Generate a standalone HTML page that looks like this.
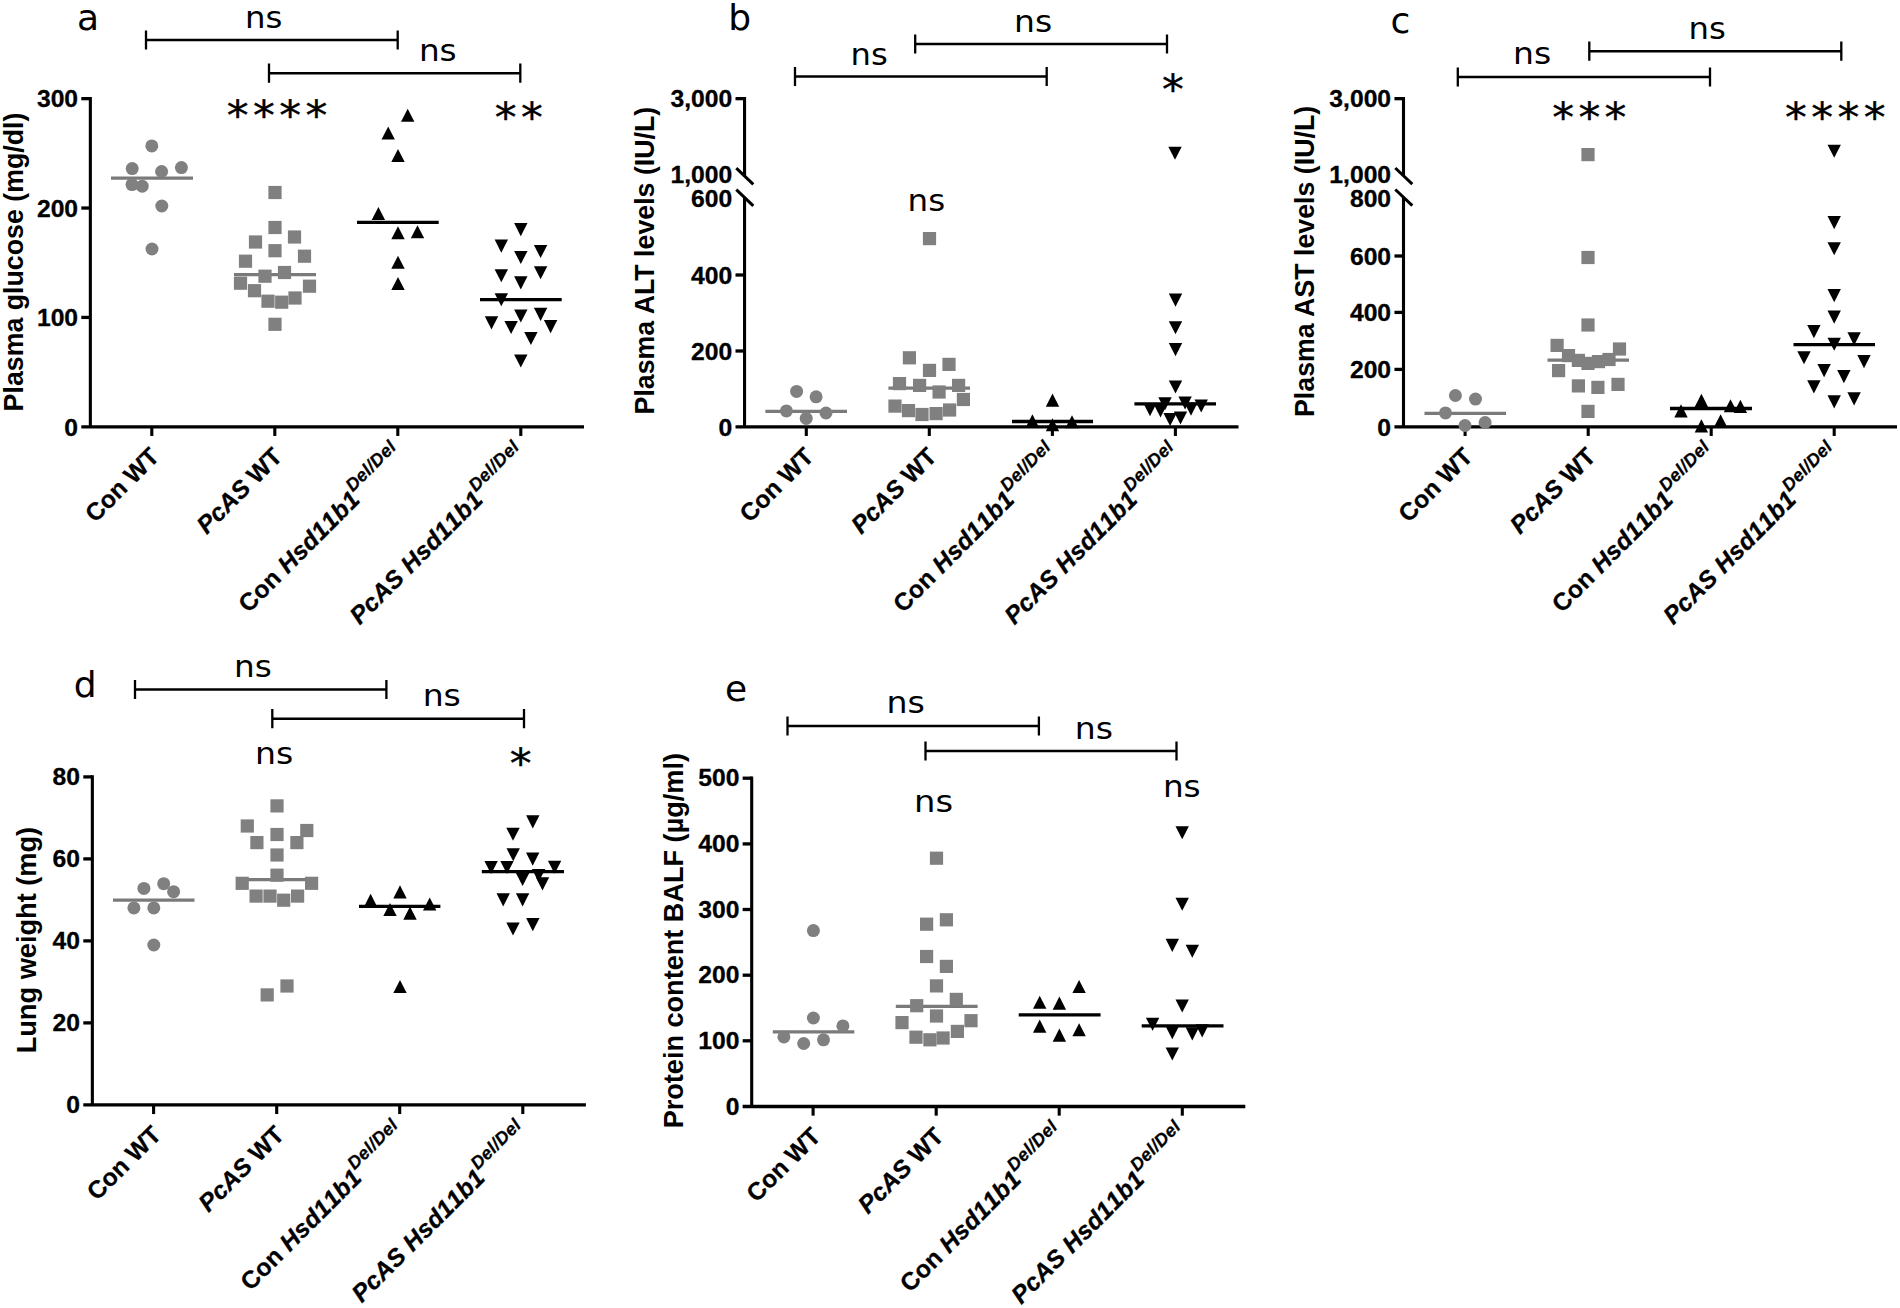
<!DOCTYPE html>
<html lang="en">
<head>
<meta charset="utf-8">
<title>Figure</title>
<style>
html,body{margin:0;padding:0;background:#fff;}
body{width:1900px;height:1308px;overflow:hidden;}
svg{display:block;}
</style>
</head>
<body>
<svg width="1900" height="1308" viewBox="0 0 1900 1308">
<rect width="1900" height="1308" fill="#fff"/>
<text x="76.9" y="30.3" font-family='"DejaVu Sans", "Liberation Sans", sans-serif' font-size="36" fill="#000">a</text>
<path d="M146.0 30.4V49.6M397.7 30.4V49.6" stroke="#000" stroke-width="2.3" fill="none"/>
<path d="M146.0 40.0H397.7" stroke="#000" stroke-width="2.6" fill="none"/>
<text transform="translate(245.10 27.8) scale(1.102 1)" font-family='"DejaVu Sans", "Liberation Sans", sans-serif' font-size="29.4" fill="#000">ns</text>
<path d="M269.0 63.6V82.8M520.3 63.6V82.8" stroke="#000" stroke-width="2.3" fill="none"/>
<path d="M269.0 73.2H520.3" stroke="#000" stroke-width="2.6" fill="none"/>
<text transform="translate(418.88 61.3) scale(1.112 1)" font-family='"DejaVu Sans", "Liberation Sans", sans-serif' font-size="29.4" fill="#000">ns</text>
<text transform="scale(1.05 1)" x="216.00 240.95 265.91 290.86" y="130.4" font-family='"DejaVu Sans", "Liberation Sans", sans-serif' font-size="41.5" fill="#000" stroke="#000" stroke-width="0.4">****</text>
<text transform="scale(1.05 1)" x="471.14 496.10" y="131.6" font-family='"DejaVu Sans", "Liberation Sans", sans-serif' font-size="41.5" fill="#000" stroke="#000" stroke-width="0.4">**</text>
<path d="M90.35 97.00V426.80" stroke="#000" stroke-width="3.1" fill="none"/>
<path d="M81.30 426.80H584.0" stroke="#000" stroke-width="3.3" fill="none"/>
<path d="M81.30 98.65H90.35" stroke="#000" stroke-width="3.3" fill="none"/>
<path d="M81.30 208.03H90.35" stroke="#000" stroke-width="3.3" fill="none"/>
<path d="M81.30 317.42H90.35" stroke="#000" stroke-width="3.3" fill="none"/>
<path d="M151.80 426.80V435.95" stroke="#000" stroke-width="3.1" fill="none"/>
<path d="M274.80 426.80V435.95" stroke="#000" stroke-width="3.1" fill="none"/>
<path d="M397.80 426.80V435.95" stroke="#000" stroke-width="3.1" fill="none"/>
<path d="M520.80 426.80V435.95" stroke="#000" stroke-width="3.1" fill="none"/>
<text transform="translate(78.1 107.4) scale(1.0 1)" text-anchor="end" font-family='"Liberation Sans", Arial, sans-serif' font-weight="700" font-size="24.7" fill="#000" stroke="#000" stroke-width="0.3" style="font-kerning:none">300</text>
<text transform="translate(78.1 216.7) scale(1.0 1)" text-anchor="end" font-family='"Liberation Sans", Arial, sans-serif' font-weight="700" font-size="24.7" fill="#000" stroke="#000" stroke-width="0.3" style="font-kerning:none">200</text>
<text transform="translate(78.1 326.1) scale(1.0 1)" text-anchor="end" font-family='"Liberation Sans", Arial, sans-serif' font-weight="700" font-size="24.7" fill="#000" stroke="#000" stroke-width="0.3" style="font-kerning:none">100</text>
<text transform="translate(78.1 435.5) scale(1.0 1)" text-anchor="end" font-family='"Liberation Sans", Arial, sans-serif' font-weight="700" font-size="24.7" fill="#000" stroke="#000" stroke-width="0.3" style="font-kerning:none">0</text>
<text transform="translate(22.6 262.0) rotate(-90)" text-anchor="middle" font-family='"Liberation Sans", Arial, sans-serif' font-weight="700" font-size="26.75" fill="#000">Plasma glucose (mg/dl)</text>
<text transform="translate(160.7 458.0) rotate(-45)" text-anchor="end" font-family='"Liberation Sans", Arial, sans-serif' font-weight="700" font-size="24.5" fill="#000" stroke="#000" stroke-width="0.3" style="font-kerning:none" letter-spacing="0">Con WT</text>
<text transform="translate(283.7 458.0) rotate(-45)" text-anchor="end" font-family='"Liberation Sans", Arial, sans-serif' font-weight="700" font-size="24.5" fill="#000" stroke="#000" stroke-width="0.3" style="font-kerning:none" letter-spacing="0"><tspan font-style="italic">PcAS</tspan> WT</text>
<text transform="translate(405.6 456.6) rotate(-45)" text-anchor="end" font-family='"Liberation Sans", Arial, sans-serif' font-weight="700" font-size="24.5" fill="#000" stroke="#000" stroke-width="0.3" style="font-kerning:none" letter-spacing="0.25">Con <tspan font-style="italic">Hsd11b1</tspan><tspan font-style="italic" font-size="18" dy="-12" stroke-width="0.25">Del/Del</tspan></text>
<text transform="translate(528.6 456.6) rotate(-45)" text-anchor="end" font-family='"Liberation Sans", Arial, sans-serif' font-weight="700" font-size="24.5" fill="#000" stroke="#000" stroke-width="0.3" style="font-kerning:none" letter-spacing="0.25"><tspan font-style="italic">PcAS Hsd11b1</tspan><tspan font-style="italic" font-size="18" dy="-12" stroke-width="0.25">Del/Del</tspan></text>
<path d="M111.0 178.1H193.0" stroke="#7a7a7a" stroke-width="3.3" fill="none"/>
<circle cx="151.8" cy="145.9" r="6.5" fill="#808080"/>
<circle cx="132.2" cy="168.6" r="6.5" fill="#808080"/>
<circle cx="161.6" cy="171.5" r="6.5" fill="#808080"/>
<circle cx="181.4" cy="167.6" r="6.5" fill="#808080"/>
<circle cx="132.0" cy="184.6" r="6.5" fill="#808080"/>
<circle cx="142.2" cy="186.2" r="6.5" fill="#808080"/>
<circle cx="161.8" cy="206.0" r="6.5" fill="#808080"/>
<circle cx="152.0" cy="249.0" r="6.5" fill="#808080"/>
<path d="M234.0 274.6H316.0" stroke="#7a7a7a" stroke-width="3.3" fill="none"/>
<rect x="268.4" y="185.9" width="13.2" height="13.2" fill="#808080"/>
<rect x="268.4" y="220.9" width="13.2" height="13.2" fill="#808080"/>
<rect x="287.9" y="230.4" width="13.2" height="13.2" fill="#808080"/>
<rect x="248.9" y="235.4" width="13.2" height="13.2" fill="#808080"/>
<rect x="268.4" y="244.1" width="13.2" height="13.2" fill="#808080"/>
<rect x="297.9" y="249.6" width="13.2" height="13.2" fill="#808080"/>
<rect x="238.9" y="254.6" width="13.2" height="13.2" fill="#808080"/>
<rect x="277.9" y="265.9" width="13.2" height="13.2" fill="#808080"/>
<rect x="258.4" y="269.6" width="13.2" height="13.2" fill="#808080"/>
<rect x="233.9" y="276.6" width="13.2" height="13.2" fill="#808080"/>
<rect x="302.9" y="279.6" width="13.2" height="13.2" fill="#808080"/>
<rect x="247.9" y="284.1" width="13.2" height="13.2" fill="#808080"/>
<rect x="288.4" y="291.4" width="13.2" height="13.2" fill="#808080"/>
<rect x="261.4" y="294.6" width="13.2" height="13.2" fill="#808080"/>
<rect x="275.1" y="295.6" width="13.2" height="13.2" fill="#808080"/>
<rect x="268.4" y="317.7" width="13.2" height="13.2" fill="#808080"/>
<path d="M357.0 222.4H438.7" stroke="#000" stroke-width="3.3" fill="none"/>
<path d="M401.0 121.8H414.4L407.7 108.7Z" fill="#000"/>
<path d="M381.5 139.5H394.9L388.2 126.4Z" fill="#000"/>
<path d="M391.3 162.0H404.7L398.0 148.9Z" fill="#000"/>
<path d="M371.7 220.0H385.1L378.4 206.9Z" fill="#000"/>
<path d="M391.3 239.3H404.7L398.0 226.2Z" fill="#000"/>
<path d="M410.8 238.3H424.2L417.5 225.2Z" fill="#000"/>
<path d="M391.3 268.8H404.7L398.0 255.7Z" fill="#000"/>
<path d="M391.3 290.0H404.7L398.0 276.9Z" fill="#000"/>
<path d="M480.0 299.7H561.7" stroke="#000" stroke-width="3.3" fill="none"/>
<path d="M514.1 223.1H527.5L520.8 236.2Z" fill="#000"/>
<path d="M494.6 239.6H508.0L501.3 252.7Z" fill="#000"/>
<path d="M533.9 245.0H547.3L540.6 258.1Z" fill="#000"/>
<path d="M514.1 251.0H527.5L520.8 264.1Z" fill="#000"/>
<path d="M494.6 269.2H508.0L501.3 282.3Z" fill="#000"/>
<path d="M533.9 266.2H547.3L540.6 279.3Z" fill="#000"/>
<path d="M514.1 276.3H527.5L520.8 289.4Z" fill="#000"/>
<path d="M494.6 293.2H508.0L501.3 306.3Z" fill="#000"/>
<path d="M514.1 309.5H527.5L520.8 322.6Z" fill="#000"/>
<path d="M533.9 307.8H547.3L540.6 320.9Z" fill="#000"/>
<path d="M484.8 316.3H498.2L491.5 329.4Z" fill="#000"/>
<path d="M504.4 320.9H517.8L511.1 334.0Z" fill="#000"/>
<path d="M543.9 320.1H557.3L550.6 333.2Z" fill="#000"/>
<path d="M524.2 332.0H537.6L530.9 345.1Z" fill="#000"/>
<path d="M514.1 354.4H527.5L520.8 367.5Z" fill="#000"/>
<text x="728.3" y="30.3" font-family='"DejaVu Sans", "Liberation Sans", sans-serif' font-size="36" fill="#000">b</text>
<path d="M795.0 66.9V86.1M1046.7 66.9V86.1" stroke="#000" stroke-width="2.3" fill="none"/>
<path d="M795.0 76.5H1046.7" stroke="#000" stroke-width="2.6" fill="none"/>
<text transform="translate(850.62 65.3) scale(1.096 1)" font-family='"DejaVu Sans", "Liberation Sans", sans-serif' font-size="29.4" fill="#000">ns</text>
<path d="M915.2 34.4V53.6M1167.0 34.4V53.6" stroke="#000" stroke-width="2.3" fill="none"/>
<path d="M915.2 44.0H1167.0" stroke="#000" stroke-width="2.6" fill="none"/>
<text transform="translate(1014.05 31.8) scale(1.122 1)" font-family='"DejaVu Sans", "Liberation Sans", sans-serif' font-size="29.4" fill="#000">ns</text>
<text transform="translate(907.59 210.8) scale(1.106 1)" font-family='"DejaVu Sans", "Liberation Sans", sans-serif' font-size="29.4" fill="#000">ns</text>
<text transform="scale(1.05 1)" x="1106.76" y="103.6" font-family='"DejaVu Sans", "Liberation Sans", sans-serif' font-size="41.5" fill="#000" stroke="#000" stroke-width="0.4">*</text>
<path d="M744.55 97.00V176.3M744.55 197.8V426.80" stroke="#000" stroke-width="3.1" fill="none"/>
<path d="M736.3 168.2L753.3 184.4" stroke="#000" stroke-width="3" fill="none" stroke-linecap="butt"/>
<path d="M736.3 189.7L753.3 205.9" stroke="#000" stroke-width="3" fill="none" stroke-linecap="butt"/>
<path d="M735.50 426.80H1238.5" stroke="#000" stroke-width="3.3" fill="none"/>
<path d="M735.50 98.65H744.55" stroke="#000" stroke-width="3.3" fill="none"/>
<path d="M735.50 275.00H744.55" stroke="#000" stroke-width="3.3" fill="none"/>
<path d="M735.50 351.00H744.55" stroke="#000" stroke-width="3.3" fill="none"/>
<path d="M806.30 426.80V435.95" stroke="#000" stroke-width="3.1" fill="none"/>
<path d="M929.30 426.80V435.95" stroke="#000" stroke-width="3.1" fill="none"/>
<path d="M1052.40 426.80V435.95" stroke="#000" stroke-width="3.1" fill="none"/>
<path d="M1175.40 426.80V435.95" stroke="#000" stroke-width="3.1" fill="none"/>
<text transform="translate(732.2 107.4) scale(1.0 1)" text-anchor="end" font-family='"Liberation Sans", Arial, sans-serif' font-weight="700" font-size="24.7" fill="#000" stroke="#000" stroke-width="0.3" style="font-kerning:none">3,000</text>
<text transform="translate(732.2 183.0) scale(1.0 1)" text-anchor="end" font-family='"Liberation Sans", Arial, sans-serif' font-weight="700" font-size="24.7" fill="#000" stroke="#000" stroke-width="0.3" style="font-kerning:none">1,000</text>
<text transform="translate(732.2 207.4) scale(1.0 1)" text-anchor="end" font-family='"Liberation Sans", Arial, sans-serif' font-weight="700" font-size="24.7" fill="#000" stroke="#000" stroke-width="0.3" style="font-kerning:none">600</text>
<text transform="translate(732.2 283.7) scale(1.0 1)" text-anchor="end" font-family='"Liberation Sans", Arial, sans-serif' font-weight="700" font-size="24.7" fill="#000" stroke="#000" stroke-width="0.3" style="font-kerning:none">400</text>
<text transform="translate(732.2 359.7) scale(1.0 1)" text-anchor="end" font-family='"Liberation Sans", Arial, sans-serif' font-weight="700" font-size="24.7" fill="#000" stroke="#000" stroke-width="0.3" style="font-kerning:none">200</text>
<text transform="translate(732.2 435.5) scale(1.0 1)" text-anchor="end" font-family='"Liberation Sans", Arial, sans-serif' font-weight="700" font-size="24.7" fill="#000" stroke="#000" stroke-width="0.3" style="font-kerning:none">0</text>
<text transform="translate(654.4 260.6) rotate(-90)" text-anchor="middle" font-family='"Liberation Sans", Arial, sans-serif' font-weight="700" font-size="26.75" fill="#000">Plasma ALT levels (IU/L)</text>
<text transform="translate(815.2 458.0) rotate(-45)" text-anchor="end" font-family='"Liberation Sans", Arial, sans-serif' font-weight="700" font-size="24.5" fill="#000" stroke="#000" stroke-width="0.3" style="font-kerning:none" letter-spacing="0">Con WT</text>
<text transform="translate(938.2 458.0) rotate(-45)" text-anchor="end" font-family='"Liberation Sans", Arial, sans-serif' font-weight="700" font-size="24.5" fill="#000" stroke="#000" stroke-width="0.3" style="font-kerning:none" letter-spacing="0"><tspan font-style="italic">PcAS</tspan> WT</text>
<text transform="translate(1060.2 456.6) rotate(-45)" text-anchor="end" font-family='"Liberation Sans", Arial, sans-serif' font-weight="700" font-size="24.5" fill="#000" stroke="#000" stroke-width="0.3" style="font-kerning:none" letter-spacing="0.25">Con <tspan font-style="italic">Hsd11b1</tspan><tspan font-style="italic" font-size="18" dy="-12" stroke-width="0.25">Del/Del</tspan></text>
<text transform="translate(1183.2 456.6) rotate(-45)" text-anchor="end" font-family='"Liberation Sans", Arial, sans-serif' font-weight="700" font-size="24.5" fill="#000" stroke="#000" stroke-width="0.3" style="font-kerning:none" letter-spacing="0.25"><tspan font-style="italic">PcAS Hsd11b1</tspan><tspan font-style="italic" font-size="18" dy="-12" stroke-width="0.25">Del/Del</tspan></text>
<path d="M765.4 411.3H847.0" stroke="#7a7a7a" stroke-width="3.3" fill="none"/>
<circle cx="796.6" cy="391.4" r="6.5" fill="#808080"/>
<circle cx="816.1" cy="396.8" r="6.5" fill="#808080"/>
<circle cx="786.4" cy="410.9" r="6.5" fill="#808080"/>
<circle cx="826.0" cy="413.0" r="6.5" fill="#808080"/>
<circle cx="806.2" cy="418.4" r="6.5" fill="#808080"/>
<path d="M888.4 388.2H970.0" stroke="#7a7a7a" stroke-width="3.3" fill="none"/>
<rect x="922.9" y="232.0" width="13.2" height="13.2" fill="#808080"/>
<rect x="902.8" y="351.2" width="13.2" height="13.2" fill="#808080"/>
<rect x="942.4" y="357.8" width="13.2" height="13.2" fill="#808080"/>
<rect x="922.9" y="363.8" width="13.2" height="13.2" fill="#808080"/>
<rect x="892.9" y="377.0" width="13.2" height="13.2" fill="#808080"/>
<rect x="913.0" y="378.8" width="13.2" height="13.2" fill="#808080"/>
<rect x="952.0" y="378.8" width="13.2" height="13.2" fill="#808080"/>
<rect x="932.5" y="385.4" width="13.2" height="13.2" fill="#808080"/>
<rect x="956.8" y="392.9" width="13.2" height="13.2" fill="#808080"/>
<rect x="888.4" y="399.5" width="13.2" height="13.2" fill="#808080"/>
<rect x="901.9" y="404.0" width="13.2" height="13.2" fill="#808080"/>
<rect x="943.0" y="403.4" width="13.2" height="13.2" fill="#808080"/>
<rect x="915.4" y="407.9" width="13.2" height="13.2" fill="#808080"/>
<rect x="929.5" y="407.0" width="13.2" height="13.2" fill="#808080"/>
<path d="M1012.0 421.5H1093.0" stroke="#000" stroke-width="3.3" fill="none"/>
<path d="M1045.8 406.7H1059.2L1052.5 393.6Z" fill="#000"/>
<path d="M1025.7 427.4H1039.1L1032.4 414.3Z" fill="#000"/>
<path d="M1045.8 431.3H1059.2L1052.5 418.2Z" fill="#000"/>
<path d="M1065.3 428.3H1078.7L1072.0 415.2Z" fill="#000"/>
<path d="M1134.4 403.8H1216.0" stroke="#000" stroke-width="3.3" fill="none"/>
<path d="M1168.3 146.7H1181.7L1175.0 159.8Z" fill="#000"/>
<path d="M1168.8 293.6H1182.2L1175.5 306.7Z" fill="#000"/>
<path d="M1168.8 321.2H1182.2L1175.5 334.3Z" fill="#000"/>
<path d="M1168.8 343.1H1182.2L1175.5 356.2Z" fill="#000"/>
<path d="M1168.8 380.5H1182.2L1175.5 393.6Z" fill="#000"/>
<path d="M1158.3 397.2H1171.7L1165.0 410.3Z" fill="#000"/>
<path d="M1178.4 396.5H1191.8L1185.1 409.6Z" fill="#000"/>
<path d="M1194.5 399.4H1207.9L1201.2 412.5Z" fill="#000"/>
<path d="M1143.3 403.1H1156.7L1150.0 416.2Z" fill="#000"/>
<path d="M1153.8 404.3H1167.2L1160.5 417.4Z" fill="#000"/>
<path d="M1184.3 402.6H1197.7L1191.0 415.7Z" fill="#000"/>
<path d="M1163.4 412.9H1176.8L1170.1 426.0Z" fill="#000"/>
<path d="M1173.8 411.4H1187.2L1180.5 424.5Z" fill="#000"/>
<text x="1390.6" y="32.9" font-family='"DejaVu Sans", "Liberation Sans", sans-serif' font-size="36" fill="#000">c</text>
<path d="M1457.8 67.4V86.6M1710.0 67.4V86.6" stroke="#000" stroke-width="2.3" fill="none"/>
<path d="M1457.8 77.0H1710.0" stroke="#000" stroke-width="2.6" fill="none"/>
<text transform="translate(1513.05 64.4) scale(1.122 1)" font-family='"DejaVu Sans", "Liberation Sans", sans-serif' font-size="29.4" fill="#000">ns</text>
<path d="M1589.3 41.6V60.8M1841.3 41.6V60.8" stroke="#000" stroke-width="2.3" fill="none"/>
<path d="M1589.3 51.2H1841.3" stroke="#000" stroke-width="2.6" fill="none"/>
<text transform="translate(1688.61 39.3) scale(1.099 1)" font-family='"DejaVu Sans", "Liberation Sans", sans-serif' font-size="29.4" fill="#000">ns</text>
<text transform="scale(1.05 1)" x="1478.29 1503.24 1528.19" y="132.0" font-family='"DejaVu Sans", "Liberation Sans", sans-serif' font-size="41.5" fill="#000" stroke="#000" stroke-width="0.4">***</text>
<text transform="scale(1.05 1)" x="1700.10 1725.05 1750.00 1774.95" y="132.0" font-family='"DejaVu Sans", "Liberation Sans", sans-serif' font-size="41.5" fill="#000" stroke="#000" stroke-width="0.4">****</text>
<path d="M1403.50 97.00V176.1M1403.50 197.6V426.80" stroke="#000" stroke-width="3.1" fill="none"/>
<path d="M1395.3 168.0L1412.3 184.2" stroke="#000" stroke-width="3" fill="none" stroke-linecap="butt"/>
<path d="M1395.3 189.5L1412.3 205.7" stroke="#000" stroke-width="3" fill="none" stroke-linecap="butt"/>
<path d="M1394.45 426.80H1897.0" stroke="#000" stroke-width="3.3" fill="none"/>
<path d="M1394.45 98.65H1403.50" stroke="#000" stroke-width="3.3" fill="none"/>
<path d="M1394.45 256.00H1403.50" stroke="#000" stroke-width="3.3" fill="none"/>
<path d="M1394.45 312.40H1403.50" stroke="#000" stroke-width="3.3" fill="none"/>
<path d="M1394.45 369.40H1403.50" stroke="#000" stroke-width="3.3" fill="none"/>
<path d="M1465.10 426.80V435.95" stroke="#000" stroke-width="3.1" fill="none"/>
<path d="M1588.20 426.80V435.95" stroke="#000" stroke-width="3.1" fill="none"/>
<path d="M1711.20 426.80V435.95" stroke="#000" stroke-width="3.1" fill="none"/>
<path d="M1834.20 426.80V435.95" stroke="#000" stroke-width="3.1" fill="none"/>
<text transform="translate(1391.1 107.4) scale(1.0 1)" text-anchor="end" font-family='"Liberation Sans", Arial, sans-serif' font-weight="700" font-size="24.7" fill="#000" stroke="#000" stroke-width="0.3" style="font-kerning:none">3,000</text>
<text transform="translate(1391.1 183.0) scale(1.0 1)" text-anchor="end" font-family='"Liberation Sans", Arial, sans-serif' font-weight="700" font-size="24.7" fill="#000" stroke="#000" stroke-width="0.3" style="font-kerning:none">1,000</text>
<text transform="translate(1391.1 207.4) scale(1.0 1)" text-anchor="end" font-family='"Liberation Sans", Arial, sans-serif' font-weight="700" font-size="24.7" fill="#000" stroke="#000" stroke-width="0.3" style="font-kerning:none">800</text>
<text transform="translate(1391.1 264.7) scale(1.0 1)" text-anchor="end" font-family='"Liberation Sans", Arial, sans-serif' font-weight="700" font-size="24.7" fill="#000" stroke="#000" stroke-width="0.3" style="font-kerning:none">600</text>
<text transform="translate(1391.1 321.1) scale(1.0 1)" text-anchor="end" font-family='"Liberation Sans", Arial, sans-serif' font-weight="700" font-size="24.7" fill="#000" stroke="#000" stroke-width="0.3" style="font-kerning:none">400</text>
<text transform="translate(1391.1 378.1) scale(1.0 1)" text-anchor="end" font-family='"Liberation Sans", Arial, sans-serif' font-weight="700" font-size="24.7" fill="#000" stroke="#000" stroke-width="0.3" style="font-kerning:none">200</text>
<text transform="translate(1391.1 435.5) scale(1.0 1)" text-anchor="end" font-family='"Liberation Sans", Arial, sans-serif' font-weight="700" font-size="24.7" fill="#000" stroke="#000" stroke-width="0.3" style="font-kerning:none">0</text>
<text transform="translate(1314.4 261.4) rotate(-90)" text-anchor="middle" font-family='"Liberation Sans", Arial, sans-serif' font-weight="700" font-size="26.75" fill="#000">Plasma AST levels (IU/L)</text>
<text transform="translate(1474.0 458.0) rotate(-45)" text-anchor="end" font-family='"Liberation Sans", Arial, sans-serif' font-weight="700" font-size="24.5" fill="#000" stroke="#000" stroke-width="0.3" style="font-kerning:none" letter-spacing="0">Con WT</text>
<text transform="translate(1597.1 458.0) rotate(-45)" text-anchor="end" font-family='"Liberation Sans", Arial, sans-serif' font-weight="700" font-size="24.5" fill="#000" stroke="#000" stroke-width="0.3" style="font-kerning:none" letter-spacing="0"><tspan font-style="italic">PcAS</tspan> WT</text>
<text transform="translate(1719.0 456.6) rotate(-45)" text-anchor="end" font-family='"Liberation Sans", Arial, sans-serif' font-weight="700" font-size="24.5" fill="#000" stroke="#000" stroke-width="0.3" style="font-kerning:none" letter-spacing="0.25">Con <tspan font-style="italic">Hsd11b1</tspan><tspan font-style="italic" font-size="18" dy="-12" stroke-width="0.25">Del/Del</tspan></text>
<text transform="translate(1842.0 456.6) rotate(-45)" text-anchor="end" font-family='"Liberation Sans", Arial, sans-serif' font-weight="700" font-size="24.5" fill="#000" stroke="#000" stroke-width="0.3" style="font-kerning:none" letter-spacing="0.25"><tspan font-style="italic">PcAS Hsd11b1</tspan><tspan font-style="italic" font-size="18" dy="-12" stroke-width="0.25">Del/Del</tspan></text>
<path d="M1424.5 413.3H1506.0" stroke="#7a7a7a" stroke-width="3.3" fill="none"/>
<circle cx="1455.4" cy="395.5" r="6.5" fill="#808080"/>
<circle cx="1475.5" cy="399.1" r="6.5" fill="#808080"/>
<circle cx="1445.5" cy="412.9" r="6.5" fill="#808080"/>
<circle cx="1485.1" cy="422.5" r="6.5" fill="#808080"/>
<circle cx="1465.0" cy="425.5" r="6.5" fill="#808080"/>
<path d="M1547.5 360.2H1629.0" stroke="#7a7a7a" stroke-width="3.3" fill="none"/>
<rect x="1581.4" y="148.0" width="13.2" height="13.2" fill="#808080"/>
<rect x="1581.4" y="250.9" width="13.2" height="13.2" fill="#808080"/>
<rect x="1581.4" y="318.4" width="13.2" height="13.2" fill="#808080"/>
<rect x="1550.5" y="338.8" width="13.2" height="13.2" fill="#808080"/>
<rect x="1612.9" y="342.4" width="13.2" height="13.2" fill="#808080"/>
<rect x="1561.9" y="349.0" width="13.2" height="13.2" fill="#808080"/>
<rect x="1602.4" y="352.9" width="13.2" height="13.2" fill="#808080"/>
<rect x="1571.8" y="353.8" width="13.2" height="13.2" fill="#808080"/>
<rect x="1591.9" y="355.0" width="13.2" height="13.2" fill="#808080"/>
<rect x="1581.4" y="356.8" width="13.2" height="13.2" fill="#808080"/>
<rect x="1552.0" y="364.0" width="13.2" height="13.2" fill="#808080"/>
<rect x="1571.8" y="379.3" width="13.2" height="13.2" fill="#808080"/>
<rect x="1591.3" y="380.8" width="13.2" height="13.2" fill="#808080"/>
<rect x="1611.4" y="377.8" width="13.2" height="13.2" fill="#808080"/>
<rect x="1581.4" y="404.8" width="13.2" height="13.2" fill="#808080"/>
<path d="M1670.0 408.5H1752.0" stroke="#000" stroke-width="3.3" fill="none"/>
<path d="M1694.7 406.9H1708.1L1701.4 393.8Z" fill="#000"/>
<path d="M1674.3 417.4H1687.7L1681.0 404.3Z" fill="#000"/>
<path d="M1723.8 412.3H1737.2L1730.5 399.2Z" fill="#000"/>
<path d="M1733.7 412.9H1747.1L1740.4 399.8Z" fill="#000"/>
<path d="M1694.7 432.4H1708.1L1701.4 419.3Z" fill="#000"/>
<path d="M1713.9 427.3H1727.3L1720.6 414.2Z" fill="#000"/>
<path d="M1793.5 344.6H1875.0" stroke="#000" stroke-width="3.3" fill="none"/>
<path d="M1827.5 144.7H1840.9L1834.2 157.8Z" fill="#000"/>
<path d="M1827.5 216.1H1840.9L1834.2 229.2Z" fill="#000"/>
<path d="M1827.5 242.2H1840.9L1834.2 255.3Z" fill="#000"/>
<path d="M1827.5 289.1H1840.9L1834.2 302.2Z" fill="#000"/>
<path d="M1827.5 310.6H1840.9L1834.2 323.7Z" fill="#000"/>
<path d="M1807.2 325.1H1820.6L1813.9 338.2Z" fill="#000"/>
<path d="M1847.4 332.3H1860.8L1854.1 345.4Z" fill="#000"/>
<path d="M1827.5 337.7H1840.9L1834.2 350.8Z" fill="#000"/>
<path d="M1797.3 351.2H1810.7L1804.0 364.3Z" fill="#000"/>
<path d="M1857.3 355.1H1870.7L1864.0 368.2Z" fill="#000"/>
<path d="M1817.4 364.1H1830.8L1824.1 377.2Z" fill="#000"/>
<path d="M1837.2 370.1H1850.6L1843.9 383.2Z" fill="#000"/>
<path d="M1807.2 380.3H1820.6L1813.9 393.4Z" fill="#000"/>
<path d="M1847.4 392.3H1860.8L1854.1 405.4Z" fill="#000"/>
<path d="M1827.5 395.3H1840.9L1834.2 408.4Z" fill="#000"/>
<text x="73.8" y="697.2" font-family='"DejaVu Sans", "Liberation Sans", sans-serif' font-size="36" fill="#000">d</text>
<path d="M135.0 679.9V699.1M386.4 679.9V699.1" stroke="#000" stroke-width="2.3" fill="none"/>
<path d="M135.0 689.5H386.4" stroke="#000" stroke-width="2.6" fill="none"/>
<text transform="translate(234.08 676.7) scale(1.112 1)" font-family='"DejaVu Sans", "Liberation Sans", sans-serif' font-size="29.4" fill="#000">ns</text>
<path d="M272.3 709.1V728.3M524.0 709.1V728.3" stroke="#000" stroke-width="2.3" fill="none"/>
<path d="M272.3 718.7H524.0" stroke="#000" stroke-width="2.6" fill="none"/>
<text transform="translate(422.64 706.0) scale(1.126 1)" font-family='"DejaVu Sans", "Liberation Sans", sans-serif' font-size="29.4" fill="#000">ns</text>
<text transform="translate(254.94 764.0) scale(1.126 1)" font-family='"DejaVu Sans", "Liberation Sans", sans-serif' font-size="29.4" fill="#000">ns</text>
<text transform="scale(1.05 1)" x="485.43" y="778.5" font-family='"DejaVu Sans", "Liberation Sans", sans-serif' font-size="41.5" fill="#000" stroke="#000" stroke-width="0.4">*</text>
<path d="M92.35 775.25V1104.90" stroke="#000" stroke-width="3.1" fill="none"/>
<path d="M83.30 1104.90H585.9" stroke="#000" stroke-width="3.3" fill="none"/>
<path d="M83.30 776.90H92.35" stroke="#000" stroke-width="3.3" fill="none"/>
<path d="M83.30 858.90H92.35" stroke="#000" stroke-width="3.3" fill="none"/>
<path d="M83.30 940.90H92.35" stroke="#000" stroke-width="3.3" fill="none"/>
<path d="M83.30 1022.90H92.35" stroke="#000" stroke-width="3.3" fill="none"/>
<path d="M153.60 1104.90V1114.05" stroke="#000" stroke-width="3.1" fill="none"/>
<path d="M276.70 1104.90V1114.05" stroke="#000" stroke-width="3.1" fill="none"/>
<path d="M399.70 1104.90V1114.05" stroke="#000" stroke-width="3.1" fill="none"/>
<path d="M522.80 1104.90V1114.05" stroke="#000" stroke-width="3.1" fill="none"/>
<text transform="translate(80.0 785.0) scale(1.0 1)" text-anchor="end" font-family='"Liberation Sans", Arial, sans-serif' font-weight="700" font-size="24.7" fill="#000" stroke="#000" stroke-width="0.3" style="font-kerning:none">80</text>
<text transform="translate(80.0 867.0) scale(1.0 1)" text-anchor="end" font-family='"Liberation Sans", Arial, sans-serif' font-weight="700" font-size="24.7" fill="#000" stroke="#000" stroke-width="0.3" style="font-kerning:none">60</text>
<text transform="translate(80.0 949.0) scale(1.0 1)" text-anchor="end" font-family='"Liberation Sans", Arial, sans-serif' font-weight="700" font-size="24.7" fill="#000" stroke="#000" stroke-width="0.3" style="font-kerning:none">40</text>
<text transform="translate(80.0 1031.0) scale(1.0 1)" text-anchor="end" font-family='"Liberation Sans", Arial, sans-serif' font-weight="700" font-size="24.7" fill="#000" stroke="#000" stroke-width="0.3" style="font-kerning:none">20</text>
<text transform="translate(80.0 1113.0) scale(1.0 1)" text-anchor="end" font-family='"Liberation Sans", Arial, sans-serif' font-weight="700" font-size="24.7" fill="#000" stroke="#000" stroke-width="0.3" style="font-kerning:none">0</text>
<text transform="translate(35.8 940.1) rotate(-90)" text-anchor="middle" font-family='"Liberation Sans", Arial, sans-serif' font-weight="700" font-size="27.2" fill="#000">Lung weight (mg)</text>
<text transform="translate(162.5 1136.1) rotate(-45)" text-anchor="end" font-family='"Liberation Sans", Arial, sans-serif' font-weight="700" font-size="24.5" fill="#000" stroke="#000" stroke-width="0.3" style="font-kerning:none" letter-spacing="0">Con WT</text>
<text transform="translate(285.6 1136.1) rotate(-45)" text-anchor="end" font-family='"Liberation Sans", Arial, sans-serif' font-weight="700" font-size="24.5" fill="#000" stroke="#000" stroke-width="0.3" style="font-kerning:none" letter-spacing="0"><tspan font-style="italic">PcAS</tspan> WT</text>
<text transform="translate(407.5 1134.7) rotate(-45)" text-anchor="end" font-family='"Liberation Sans", Arial, sans-serif' font-weight="700" font-size="24.5" fill="#000" stroke="#000" stroke-width="0.3" style="font-kerning:none" letter-spacing="0.25">Con <tspan font-style="italic">Hsd11b1</tspan><tspan font-style="italic" font-size="18" dy="-12" stroke-width="0.25">Del/Del</tspan></text>
<text transform="translate(530.6 1134.7) rotate(-45)" text-anchor="end" font-family='"Liberation Sans", Arial, sans-serif' font-weight="700" font-size="24.5" fill="#000" stroke="#000" stroke-width="0.3" style="font-kerning:none" letter-spacing="0.25"><tspan font-style="italic">PcAS Hsd11b1</tspan><tspan font-style="italic" font-size="18" dy="-12" stroke-width="0.25">Del/Del</tspan></text>
<path d="M113.0 900.2H194.5" stroke="#7a7a7a" stroke-width="3.3" fill="none"/>
<circle cx="143.9" cy="888.4" r="6.5" fill="#808080"/>
<circle cx="163.7" cy="883.7" r="6.5" fill="#808080"/>
<circle cx="173.6" cy="891.7" r="6.5" fill="#808080"/>
<circle cx="133.9" cy="907.9" r="6.5" fill="#808080"/>
<circle cx="153.8" cy="907.9" r="6.5" fill="#808080"/>
<circle cx="153.8" cy="945.0" r="6.5" fill="#808080"/>
<path d="M236.7 879.7H317.4" stroke="#7a7a7a" stroke-width="3.3" fill="none"/>
<rect x="270.4" y="799.3" width="13.2" height="13.2" fill="#808080"/>
<rect x="240.7" y="819.4" width="13.2" height="13.2" fill="#808080"/>
<rect x="300.2" y="823.9" width="13.2" height="13.2" fill="#808080"/>
<rect x="270.4" y="827.9" width="13.2" height="13.2" fill="#808080"/>
<rect x="250.3" y="836.0" width="13.2" height="13.2" fill="#808080"/>
<rect x="290.3" y="836.0" width="13.2" height="13.2" fill="#808080"/>
<rect x="270.4" y="848.4" width="13.2" height="13.2" fill="#808080"/>
<rect x="270.4" y="868.6" width="13.2" height="13.2" fill="#808080"/>
<rect x="235.6" y="876.7" width="13.2" height="13.2" fill="#808080"/>
<rect x="305.0" y="876.7" width="13.2" height="13.2" fill="#808080"/>
<rect x="249.5" y="889.5" width="13.2" height="13.2" fill="#808080"/>
<rect x="263.4" y="889.5" width="13.2" height="13.2" fill="#808080"/>
<rect x="277.1" y="893.6" width="13.2" height="13.2" fill="#808080"/>
<rect x="291.0" y="889.5" width="13.2" height="13.2" fill="#808080"/>
<rect x="260.6" y="988.3" width="13.2" height="13.2" fill="#808080"/>
<rect x="280.4" y="979.4" width="13.2" height="13.2" fill="#808080"/>
<path d="M359.0 906.4H440.4" stroke="#000" stroke-width="3.3" fill="none"/>
<path d="M363.9 906.9H377.3L370.6 893.8Z" fill="#000"/>
<path d="M393.3 898.4H406.7L400.0 885.3Z" fill="#000"/>
<path d="M383.3 916.0H396.7L390.0 902.9Z" fill="#000"/>
<path d="M403.3 919.7H416.7L410.0 906.6Z" fill="#000"/>
<path d="M423.0 910.5H436.4L429.7 897.4Z" fill="#000"/>
<path d="M393.3 993.1H406.7L400.0 980.0Z" fill="#000"/>
<path d="M481.8 871.6H564.0" stroke="#000" stroke-width="3.3" fill="none"/>
<path d="M526.1 815.3H539.5L532.8 828.4Z" fill="#000"/>
<path d="M506.3 827.7H519.7L513.0 840.8Z" fill="#000"/>
<path d="M506.5 848.2H519.9L513.2 861.3Z" fill="#000"/>
<path d="M526.0 852.6H539.4L532.7 865.7Z" fill="#000"/>
<path d="M484.4 860.9H497.8L491.1 874.0Z" fill="#000"/>
<path d="M500.3 860.9H513.7L507.0 874.0Z" fill="#000"/>
<path d="M547.9 860.7H561.3L554.6 873.8Z" fill="#000"/>
<path d="M515.9 873.0H529.3L522.6 886.1Z" fill="#000"/>
<path d="M531.9 868.9H545.3L538.6 882.0Z" fill="#000"/>
<path d="M535.8 877.3H549.2L542.5 890.4Z" fill="#000"/>
<path d="M496.5 893.3H509.9L503.2 906.4Z" fill="#000"/>
<path d="M515.9 893.3H529.3L522.6 906.4Z" fill="#000"/>
<path d="M506.3 922.4H519.7L513.0 935.5Z" fill="#000"/>
<path d="M526.1 918.1H539.5L532.8 931.2Z" fill="#000"/>
<text x="725.1" y="700.8" font-family='"DejaVu Sans", "Liberation Sans", sans-serif' font-size="36" fill="#000">e</text>
<path d="M787.5 716.4V735.6M1038.9 716.4V735.6" stroke="#000" stroke-width="2.3" fill="none"/>
<path d="M787.5 726.0H1038.9" stroke="#000" stroke-width="2.6" fill="none"/>
<text transform="translate(886.44 713.3) scale(1.129 1)" font-family='"DejaVu Sans", "Liberation Sans", sans-serif' font-size="29.4" fill="#000">ns</text>
<path d="M925.5 741.4V760.6M1176.5 741.4V760.6" stroke="#000" stroke-width="2.3" fill="none"/>
<path d="M925.5 751.0H1176.5" stroke="#000" stroke-width="2.6" fill="none"/>
<text transform="translate(1074.74 739.0) scale(1.126 1)" font-family='"DejaVu Sans", "Liberation Sans", sans-serif' font-size="29.4" fill="#000">ns</text>
<text transform="translate(913.99 812.0) scale(1.149 1)" font-family='"DejaVu Sans", "Liberation Sans", sans-serif' font-size="29.4" fill="#000">ns</text>
<text transform="translate(1162.88 797.3) scale(1.112 1)" font-family='"DejaVu Sans", "Liberation Sans", sans-serif' font-size="29.4" fill="#000">ns</text>
<path d="M751.70 776.55V1106.50" stroke="#000" stroke-width="3.1" fill="none"/>
<path d="M742.65 1106.50H1245.3" stroke="#000" stroke-width="3.3" fill="none"/>
<path d="M742.65 778.20H751.70" stroke="#000" stroke-width="3.3" fill="none"/>
<path d="M742.65 843.90H751.70" stroke="#000" stroke-width="3.3" fill="none"/>
<path d="M742.65 909.50H751.70" stroke="#000" stroke-width="3.3" fill="none"/>
<path d="M742.65 975.20H751.70" stroke="#000" stroke-width="3.3" fill="none"/>
<path d="M742.65 1040.80H751.70" stroke="#000" stroke-width="3.3" fill="none"/>
<path d="M813.10 1106.50V1115.65" stroke="#000" stroke-width="3.1" fill="none"/>
<path d="M936.20 1106.50V1115.65" stroke="#000" stroke-width="3.1" fill="none"/>
<path d="M1059.20 1106.50V1115.65" stroke="#000" stroke-width="3.1" fill="none"/>
<path d="M1182.30 1106.50V1115.65" stroke="#000" stroke-width="3.1" fill="none"/>
<text transform="translate(739.5 786.2) scale(1.0 1)" text-anchor="end" font-family='"Liberation Sans", Arial, sans-serif' font-weight="700" font-size="24.7" fill="#000" stroke="#000" stroke-width="0.3" style="font-kerning:none">500</text>
<text transform="translate(739.5 851.9) scale(1.0 1)" text-anchor="end" font-family='"Liberation Sans", Arial, sans-serif' font-weight="700" font-size="24.7" fill="#000" stroke="#000" stroke-width="0.3" style="font-kerning:none">400</text>
<text transform="translate(739.5 917.5) scale(1.0 1)" text-anchor="end" font-family='"Liberation Sans", Arial, sans-serif' font-weight="700" font-size="24.7" fill="#000" stroke="#000" stroke-width="0.3" style="font-kerning:none">300</text>
<text transform="translate(739.5 983.2) scale(1.0 1)" text-anchor="end" font-family='"Liberation Sans", Arial, sans-serif' font-weight="700" font-size="24.7" fill="#000" stroke="#000" stroke-width="0.3" style="font-kerning:none">200</text>
<text transform="translate(739.5 1048.8) scale(1.0 1)" text-anchor="end" font-family='"Liberation Sans", Arial, sans-serif' font-weight="700" font-size="24.7" fill="#000" stroke="#000" stroke-width="0.3" style="font-kerning:none">100</text>
<text transform="translate(739.5 1114.5) scale(1.0 1)" text-anchor="end" font-family='"Liberation Sans", Arial, sans-serif' font-weight="700" font-size="24.7" fill="#000" stroke="#000" stroke-width="0.3" style="font-kerning:none">0</text>
<text transform="translate(682.6 940.7) rotate(-90)" text-anchor="middle" font-family='"Liberation Sans", Arial, sans-serif' font-weight="700" font-size="27.1" fill="#000">Protein content BALF (µg/ml)</text>
<text transform="translate(822.0 1137.7) rotate(-45)" text-anchor="end" font-family='"Liberation Sans", Arial, sans-serif' font-weight="700" font-size="24.5" fill="#000" stroke="#000" stroke-width="0.3" style="font-kerning:none" letter-spacing="0">Con WT</text>
<text transform="translate(945.1 1137.7) rotate(-45)" text-anchor="end" font-family='"Liberation Sans", Arial, sans-serif' font-weight="700" font-size="24.5" fill="#000" stroke="#000" stroke-width="0.3" style="font-kerning:none" letter-spacing="0"><tspan font-style="italic">PcAS</tspan> WT</text>
<text transform="translate(1067.0 1136.3) rotate(-45)" text-anchor="end" font-family='"Liberation Sans", Arial, sans-serif' font-weight="700" font-size="24.5" fill="#000" stroke="#000" stroke-width="0.3" style="font-kerning:none" letter-spacing="0.25">Con <tspan font-style="italic">Hsd11b1</tspan><tspan font-style="italic" font-size="18" dy="-12" stroke-width="0.25">Del/Del</tspan></text>
<text transform="translate(1190.1 1136.3) rotate(-45)" text-anchor="end" font-family='"Liberation Sans", Arial, sans-serif' font-weight="700" font-size="24.5" fill="#000" stroke="#000" stroke-width="0.3" style="font-kerning:none" letter-spacing="0.25"><tspan font-style="italic">PcAS Hsd11b1</tspan><tspan font-style="italic" font-size="18" dy="-12" stroke-width="0.25">Del/Del</tspan></text>
<path d="M772.8 1031.8H854.3" stroke="#7a7a7a" stroke-width="3.3" fill="none"/>
<circle cx="813.4" cy="930.6" r="6.5" fill="#808080"/>
<circle cx="813.4" cy="1018.0" r="6.5" fill="#808080"/>
<circle cx="842.9" cy="1025.9" r="6.5" fill="#808080"/>
<circle cx="783.9" cy="1036.9" r="6.5" fill="#808080"/>
<circle cx="823.5" cy="1039.8" r="6.5" fill="#808080"/>
<circle cx="803.7" cy="1043.5" r="6.5" fill="#808080"/>
<path d="M895.8 1006.4H977.6" stroke="#7a7a7a" stroke-width="3.3" fill="none"/>
<rect x="929.9" y="851.6" width="13.2" height="13.2" fill="#808080"/>
<rect x="920.0" y="917.6" width="13.2" height="13.2" fill="#808080"/>
<rect x="939.8" y="913.2" width="13.2" height="13.2" fill="#808080"/>
<rect x="920.0" y="949.9" width="13.2" height="13.2" fill="#808080"/>
<rect x="939.8" y="959.8" width="13.2" height="13.2" fill="#808080"/>
<rect x="929.9" y="979.3" width="13.2" height="13.2" fill="#808080"/>
<rect x="949.7" y="992.8" width="13.2" height="13.2" fill="#808080"/>
<rect x="910.1" y="999.1" width="13.2" height="13.2" fill="#808080"/>
<rect x="929.9" y="1009.4" width="13.2" height="13.2" fill="#808080"/>
<rect x="895.4" y="1016.0" width="13.2" height="13.2" fill="#808080"/>
<rect x="964.4" y="1014.1" width="13.2" height="13.2" fill="#808080"/>
<rect x="950.8" y="1024.8" width="13.2" height="13.2" fill="#808080"/>
<rect x="909.4" y="1030.6" width="13.2" height="13.2" fill="#808080"/>
<rect x="923.3" y="1033.2" width="13.2" height="13.2" fill="#808080"/>
<rect x="936.5" y="1031.4" width="13.2" height="13.2" fill="#808080"/>
<path d="M1018.7 1014.9H1100.6" stroke="#000" stroke-width="3.3" fill="none"/>
<path d="M1072.4 993.1H1085.8L1079.1 980.0Z" fill="#000"/>
<path d="M1033.0 1008.8H1046.4L1039.7 995.7Z" fill="#000"/>
<path d="M1052.7 1009.7H1066.1L1059.4 996.6Z" fill="#000"/>
<path d="M1033.0 1032.7H1046.4L1039.7 1019.6Z" fill="#000"/>
<path d="M1072.4 1036.3H1085.8L1079.1 1023.2Z" fill="#000"/>
<path d="M1052.7 1041.7H1066.1L1059.4 1028.6Z" fill="#000"/>
<path d="M1141.7 1025.9H1223.5" stroke="#000" stroke-width="3.3" fill="none"/>
<path d="M1175.5 826.2H1188.9L1182.2 839.3Z" fill="#000"/>
<path d="M1175.5 897.7H1188.9L1182.2 910.8Z" fill="#000"/>
<path d="M1165.6 938.8H1179.0L1172.3 951.9Z" fill="#000"/>
<path d="M1185.6 944.7H1199.0L1192.3 957.8Z" fill="#000"/>
<path d="M1175.5 999.4H1188.9L1182.2 1012.5Z" fill="#000"/>
<path d="M1145.9 1017.7H1159.3L1152.6 1030.8Z" fill="#000"/>
<path d="M1195.5 1024.3H1208.9L1202.2 1037.4Z" fill="#000"/>
<path d="M1165.6 1026.2H1179.0L1172.3 1039.3Z" fill="#000"/>
<path d="M1185.6 1027.3H1199.0L1192.3 1040.4Z" fill="#000"/>
<path d="M1165.6 1047.5H1179.0L1172.3 1060.6Z" fill="#000"/>
</svg>
</body>
</html>
